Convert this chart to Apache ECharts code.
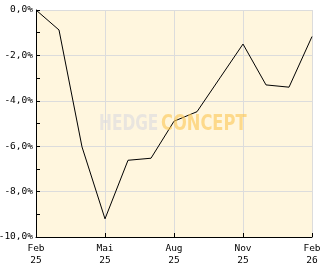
<!DOCTYPE html>
<html>
<head>
<meta charset="utf-8">
<script src="https://cdn.jsdelivr.net/npm/echarts@6/dist/echarts.min.js"></script>
<style>
html,body{margin:0;padding:0;background:#ffffff;}
#chart{width:332px;height:269px;}
</style>
</head>
<body>
<div id="chart"></div>
<script>
const months = ["Feb\n25","Mär\n25","Apr\n25","Mai\n25","Jun\n25","Jul\n25","Aug\n25","Sep\n25","Okt\n25","Nov\n25","Dez\n25","Jan\n26","Feb\n26"];
const performance = [0, -0.88, -6.03, -9.2, -6.62, -6.53, -4.9, -4.48, -2.99, -1.5, -3.3, -3.4, -1.17];
const yMin = -10, yMax = 0, yStep = 2;

const chart = echarts.init(document.getElementById('chart'), null, {renderer: 'canvas'});
const labelFont = {fontFamily: 'DejaVu Sans Mono', fontSize: 9.5, color: '#000'};
chart.setOption({
  animation: false,
  backgroundColor: '#ffffff',
  grid: {left: 36, right: 20, top: 10, bottom: 32, outerBoundsMode: 'none', containLabel: false,
         show: true, backgroundColor: '#fff6de', borderWidth: 0},
  xAxis: {
    type: 'category',
    data: months,
    boundaryGap: false,
    axisLine: {show: true, onZero: false, lineStyle: {color: '#000', width: 1}},
    axisTick: {show: true, inside: true, length: 4, interval: 2, lineStyle: {color: '#000'}},
    axisLabel: Object.assign({interval: 2, margin: 6, lineHeight: 12}, labelFont),
    splitLine: {show: true, interval: 2, lineStyle: {color: '#dcdcdc', width: 1}}
  },
  yAxis: {
    type: 'value',
    min: yMin, max: yMax, interval: yStep,
    axisLine: {show: true, lineStyle: {color: '#000', width: 1}},
    axisTick: {show: true, inside: true, length: 4, lineStyle: {color: '#000'}},
    minorTick: {show: true, splitNumber: 2, length: 4, lineStyle: {color: '#000'}},
    axisLabel: Object.assign({margin: 3, formatter: v => v.toFixed(1).replace('.', ',') + '%'}, labelFont),
    splitLine: {show: true, lineStyle: {color: '#dcdcdc', width: 1}}
  },
  graphic: [
    {type: 'text', x: 99, y: 124, scaleX: 0.70, z: 100, silent: true,
     style: {text: 'HEDGE', x: 0, y: 0, textVerticalAlign: 'middle', fill: 'rgba(218,219,224,0.6)',
             fontFamily: 'DejaVu Sans', fontWeight: 'bold', fontSize: 22}},
    {type: 'text', x: 161, y: 124, scaleX: 0.74, z: 100, silent: true,
     style: {text: 'CONCEPT', x: 0, y: 0, textVerticalAlign: 'middle', fill: 'rgba(252,198,82,0.6)',
             fontFamily: 'DejaVu Sans', fontWeight: 'bold', fontSize: 22}}
  ],
  series: [{
    type: 'line',
    data: performance,
    showSymbol: false,
    symbol: 'none',
    lineStyle: {color: '#000', width: 1},
    z: 3
  }]
});
</script>
</body>
</html>
